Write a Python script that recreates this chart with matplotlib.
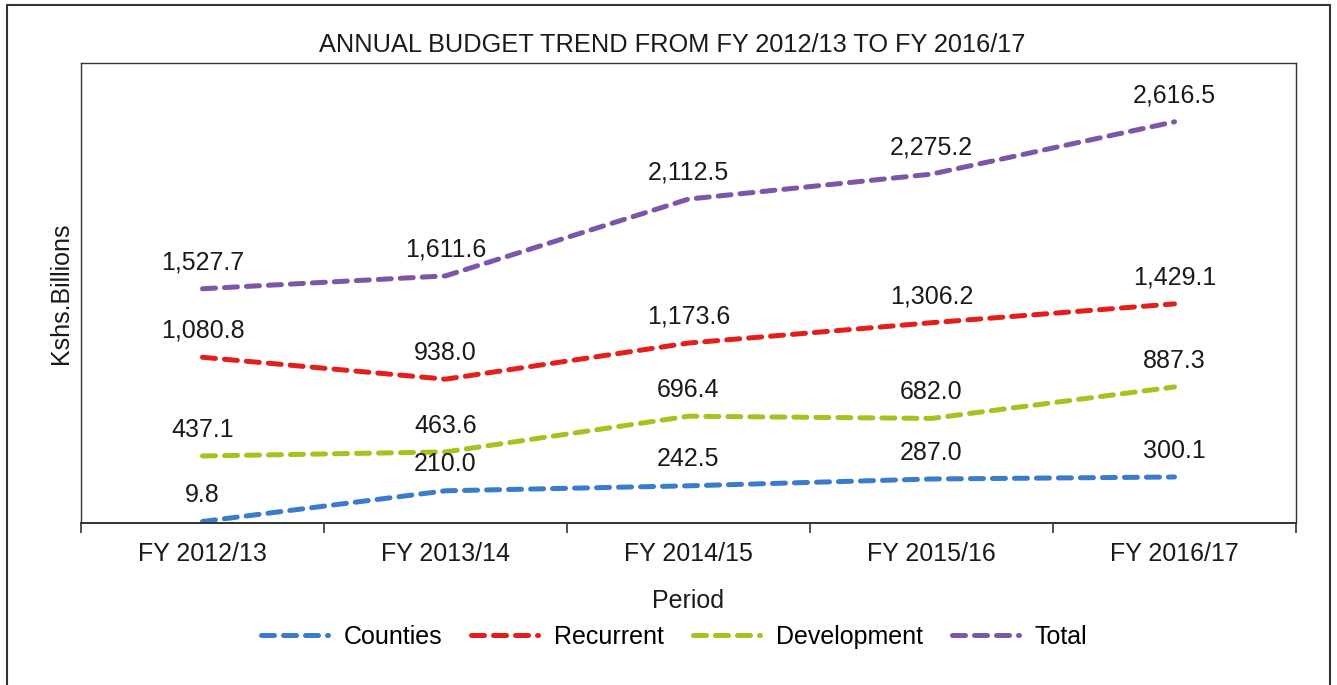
import matplotlib
matplotlib.use("Agg")
import matplotlib.pyplot as plt
from matplotlib.patches import Rectangle
import numpy as np

plt.rcParams['font.family'] = ['Liberation Sans', 'DejaVu Sans']

periods = ["FY 2012/13", "FY 2013/14", "FY 2014/15", "FY 2015/16", "FY 2016/17"]
counties = [9.8, 210.0, 242.5, 287.0, 300.1]
recurrent = [1080.8, 938.0, 1173.6, 1306.2, 1429.1]
development = [437.1, 463.6, 696.4, 682.0, 887.3]
total = [1527.7, 1611.6, 2112.5, 2275.2, 2616.5]

series = [
    ("Counties", counties, "#3b7bcb"),
    ("Recurrent", recurrent, "#e41e1a"),
    ("Development", development, "#a6c21e"),
    ("Total", total, "#7d55a9"),
]

FS = 18
fig = plt.figure(figsize=(13.37, 6.85), dpi=100)
ax = fig.add_axes([81/1337, 1-523/685, (1296-81)/1337, (523-63)/685])

x = np.arange(len(periods))
handles = []
for name, vals, col in series:
    ln, = ax.plot(x, vals, color=col, lw=3.6, dashes=(2.6, 1.8), label=name,
                  dash_capstyle='round')
    handles.append(ln)
    for xi, v in zip(x, vals):
        ax.annotate(f"{v:,.1f}", (xi, v), xytext=(0, 19), textcoords="offset points",
                    ha="center", va="center", fontsize=FS, color="#1a1a1a")

ax.set_xlim(-0.5, len(periods) - 0.5)
ax.set_ylim(0, 3000)
ax.set_xticks(x)
ax.set_xticklabels(periods, fontsize=FS, color="#1a1a1a")
ax.set_xticks(np.arange(-0.5, len(periods), 1.0), minor=True)
ax.tick_params(axis='x', which='major', length=0, pad=14)
ax.tick_params(axis='x', which='minor', length=7, width=1.2, color="#333333")
ax.set_yticks([])
for s in ax.spines.values():
    s.set_color("#333333")
    s.set_linewidth(1.0)
ax.spines['bottom'].set_linewidth(1.4)

ax.set_ylabel("Kshs.Billions", fontsize=FS, color="#1a1a1a", labelpad=6)
ax.set_xlabel("Period", fontsize=FS, color="#1a1a1a", labelpad=16)
fig.text(672/1337, 1-45/685, "ANNUAL BUDGET TREND FROM FY 2012/13 TO FY 2016/17",
         ha="center", va="center", fontsize=18.3, color="#1a1a1a")

fig.legend(handles=handles, loc="center", bbox_to_anchor=(674/1337, 1-637/685),
           ncol=4, frameon=False, fontsize=FS, handlelength=2.68, columnspacing=1.15,
           handletextpad=0.64)

fig.patches.append(Rectangle((7/1337, -0.02), 1323/1337, 1-5/685+0.02,
                             transform=fig.transFigure, fill=False,
                             edgecolor="#333333", lw=1.5))

fig.savefig("out.png", dpi=100)
